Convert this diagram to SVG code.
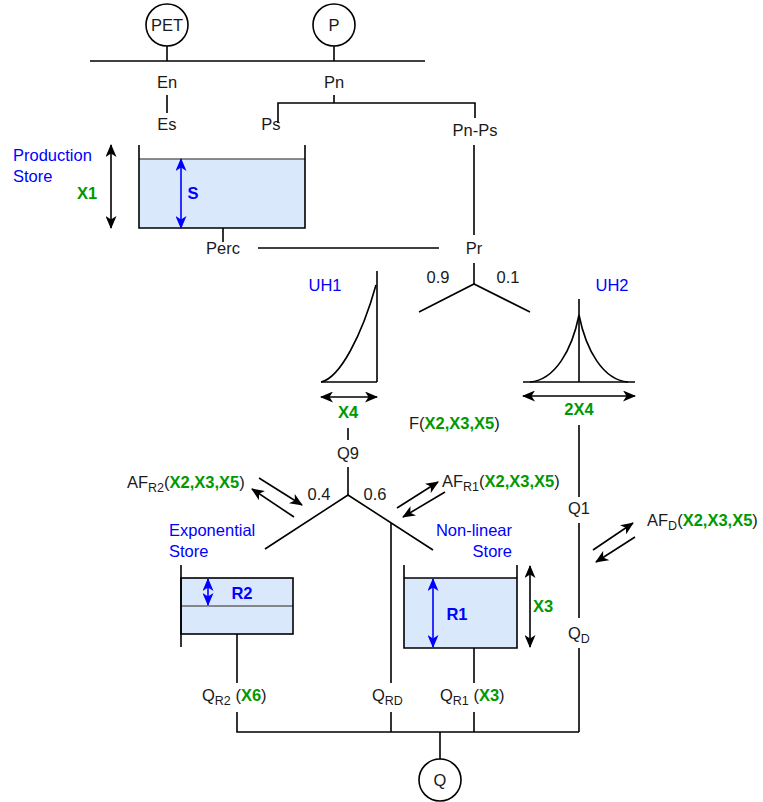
<svg xmlns="http://www.w3.org/2000/svg" width="763" height="802" viewBox="0 0 763 802">
<defs>
<marker id="ak" markerUnits="userSpaceOnUse" markerWidth="13" markerHeight="11" refX="12" refY="5.5" orient="auto-start-reverse" viewBox="0 0 13 11"><path class="hk" d="M0,0 L13,5.5 L0,11 L3.5,5.5 z"/></marker>
<marker id="ab" markerUnits="userSpaceOnUse" markerWidth="13" markerHeight="11" refX="12" refY="5.5" orient="auto-start-reverse" viewBox="0 0 13 11"><path class="hb" d="M0,0 L13,5.5 L0,11 L3.5,5.5 z"/></marker>
<style>
text{font-family:"Liberation Sans",Arial,sans-serif;font-size:16.5px;fill:#1a1a1a}
.m{text-anchor:middle}
.e{text-anchor:end}
.b{fill:#0000ff}
.g{fill:#009900;font-weight:bold}
.bb{fill:#0000ff;font-weight:bold}
.sub{font-size:12.5px}
line,path,polyline{stroke:#000;stroke-width:1.6;fill:none}
path.hk{fill:#000;stroke:none}
path.hb{fill:#0000ff;stroke:none}
.blu{stroke:#0000ff}
.wat{fill:#dae8fc;stroke:none}
.gl{stroke:#666}
circle{fill:#fff;stroke:#000;stroke-width:1.6}
</style>
</defs>
<rect width="763" height="802" fill="#fff"/>

<g id="connectors">
<line x1="90" y1="61" x2="425" y2="61"/>
<line x1="167" y1="46" x2="167" y2="61"/>
<line x1="334" y1="46" x2="334" y2="61"/>
<line x1="167" y1="95" x2="167" y2="113"/>
<polyline points="334,95 334,103"/>
<polyline points="278,123 278,103 475,103 475,118"/>
<line x1="474" y1="145" x2="474" y2="235"/>
<line x1="223" y1="228" x2="223" y2="242"/>
<line x1="258" y1="248" x2="439" y2="248"/>
<line x1="474" y1="263" x2="474" y2="284"/>
<polyline points="419,312 474,284 530,312"/>
<line x1="348" y1="428" x2="348" y2="440"/>
<line x1="348" y1="467" x2="348" y2="495"/>
<polyline points="265,549 348,495 433,550"/>
<line x1="391" y1="523" x2="391" y2="683"/>
<line x1="579" y1="425" x2="579" y2="497"/>
<line x1="579" y1="523" x2="579" y2="618"/>
<line x1="579" y1="648" x2="579" y2="732"/>
<line x1="237" y1="634" x2="237" y2="683"/>
<line x1="474" y1="648" x2="474" y2="683"/>
<polyline points="237,712 237,732 579,732"/>
<line x1="391" y1="712" x2="391" y2="732"/>
<line x1="474" y1="712" x2="474" y2="732"/>
<line x1="440" y1="732" x2="440" y2="759"/>
<line x1="259" y1="478" x2="302" y2="505" marker-end="url(#ak)"/>
<line x1="294" y1="517" x2="252" y2="489" marker-end="url(#ak)"/>
<line x1="397" y1="508" x2="438" y2="482" marker-end="url(#ak)"/>
<line x1="445" y1="492" x2="403" y2="517" marker-end="url(#ak)"/>
<line x1="593" y1="550" x2="633" y2="523" marker-end="url(#ak)"/>
<line x1="635" y1="537" x2="596" y2="562" marker-end="url(#ak)"/>
</g>

<g id="PET"><circle cx="167" cy="25" r="21"/><text class="m" x="167" y="31">PET</text></g>
<g id="P"><circle cx="334" cy="25" r="21"/><text class="m" x="334" y="31">P</text></g>
<g id="Q"><circle cx="440" cy="780" r="21"/><text class="m" x="440" y="786">Q</text></g>

<g id="labels-top">
<text class="m" x="167" y="88">En</text>
<text class="m" x="167" y="130">Es</text>
<text class="m" x="334" y="88">Pn</text>
<text class="m" x="271" y="130">Ps</text>
<text class="m" x="475" y="136">Pn-Ps</text>
<text class="m" x="223" y="254">Perc</text>
<text class="m" x="474" y="254">Pr</text>
<text class="m" x="438" y="283">0.9</text>
<text class="m" x="508" y="283">0.1</text>
</g>

<g id="production-store">
<rect class="wat" x="139" y="159" width="166" height="69"/>
<line class="gl" x1="139" y1="159" x2="305" y2="159"/>
<polyline points="139,145 139,228 305,228 305,145"/>
<line class="blu" x1="181" y1="159" x2="181" y2="228" marker-start="url(#ab)" marker-end="url(#ab)"/>
<line x1="111" y1="145" x2="111" y2="228" marker-start="url(#ak)" marker-end="url(#ak)"/>
<text class="b" x="13" y="161">Production</text>
<text class="b" x="13" y="182">Store</text>
<text class="g m" x="87" y="199">X1</text>
<text class="bb m" x="193" y="199">S</text>
</g>

<g id="UH1">
<text class="b m" x="325" y="291">UH1</text>
<line x1="377" y1="271" x2="377" y2="382"/>
<line x1="321" y1="382" x2="377" y2="382"/>
<path d="M321,382 C340,378 362,335 376,285"/>
<line x1="321" y1="397" x2="377" y2="397" marker-start="url(#ak)" marker-end="url(#ak)"/>
<text class="g m" x="348" y="418">X4</text>
</g>

<g id="UH2">
<text class="b m" x="612" y="291">UH2</text>
<line x1="579" y1="299" x2="579" y2="382"/>
<line x1="523" y1="382" x2="635" y2="382"/>
<path d="M530,382 C555,380 572,350 579,315 C586,350 603,380 628,382"/>
<line x1="523" y1="396" x2="635" y2="396" marker-start="url(#ak)" marker-end="url(#ak)"/>
<text class="g m" x="579" y="415">2X4</text>
</g>

<g id="routing-labels">
<text x="409" y="429">F(<tspan class="g">X2,X3,X5</tspan>)</text>
<text class="m" x="348" y="459">Q9</text>
<text class="m" x="319" y="500">0.4</text>
<text class="m" x="375" y="500">0.6</text>
<text class="m" x="579" y="514">Q1</text>
<text x="127" y="488">AF<tspan class="sub" dy="4">R2</tspan><tspan dy="-4">(</tspan><tspan class="g">X2,X3,X5</tspan>)</text>
<text x="442" y="487">AF<tspan class="sub" dy="4">R1</tspan><tspan dy="-4">(</tspan><tspan class="g">X2,X3,X5</tspan>)</text>
<text x="647" y="526">AF<tspan class="sub" dy="4">D</tspan><tspan dy="-4">(</tspan><tspan class="g">X2,X3,X5</tspan>)</text>
<text x="568" y="639">Q<tspan class="sub" dy="4">D</tspan></text>
</g>

<g id="exponential-store">
<text class="b" x="169" y="536">Exponential</text>
<text class="b" x="169" y="557">Store</text>
<rect class="wat" x="181" y="578" width="112" height="56"/>
<line class="gl" x1="181" y1="606" x2="293" y2="606"/>
<rect x="181" y="578" width="112" height="56" fill="none" stroke="#000" stroke-width="1.6"/>
<line x1="181" y1="565" x2="181" y2="647"/>
<line class="blu" x1="208" y1="579" x2="208" y2="605" marker-start="url(#ab)" marker-end="url(#ab)"/>
<text class="bb m" x="242" y="599">R2</text>
<text x="202" y="701">Q<tspan class="sub" dy="4">R2</tspan><tspan dy="-4"> (</tspan><tspan class="g">X6</tspan>)</text>
</g>

<g id="nonlinear-store">
<text class="b e" x="512" y="536">Non-linear</text>
<text class="b e" x="512" y="557">Store</text>
<rect class="wat" x="404" y="578" width="113" height="70"/>
<polyline points="404,565 404,648 517,648 517,565"/>
<line x1="404" y1="578" x2="517" y2="578"/>
<line class="blu" x1="433" y1="579" x2="433" y2="647" marker-start="url(#ab)" marker-end="url(#ab)"/>
<text class="bb m" x="457" y="620">R1</text>
<line x1="530" y1="566" x2="530" y2="647" marker-start="url(#ak)" marker-end="url(#ak)"/>
<text class="g m" x="543" y="612">X3</text>
<text x="440" y="701">Q<tspan class="sub" dy="4">R1</tspan><tspan dy="-4"> (</tspan><tspan class="g">X3</tspan>)</text>
</g>

<g id="direct-branch">
<text x="372" y="701">Q<tspan class="sub" dy="4">RD</tspan></text>
</g>
</svg>
